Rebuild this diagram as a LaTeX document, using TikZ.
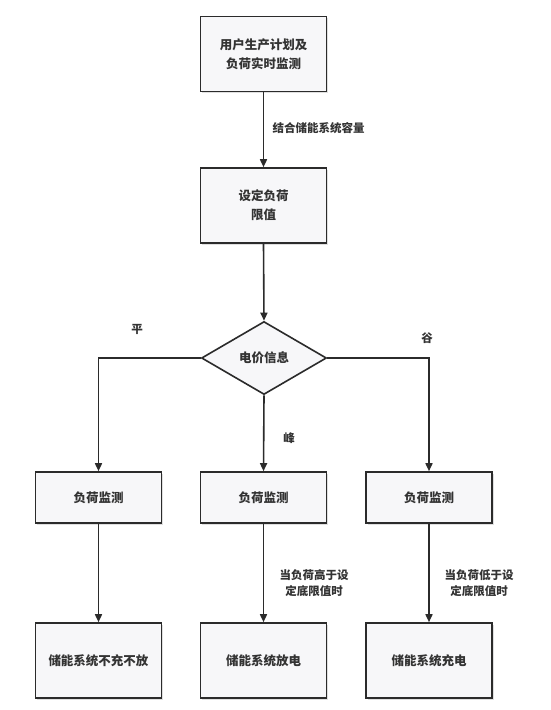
\documentclass[tikz,border=0pt]{standalone}
\usepackage{fontspec}
\setmainfont{Noto Sans CJK SC}
\usetikzlibrary{shapes.geometric,arrows.meta,shadows}
\definecolor{linec}{HTML}{2B2B2B}
\definecolor{boxfill}{HTML}{F7F7F9}
\begin{document}
\begin{tikzpicture}[x=1pt,y=-1pt,
  every node/.style={font=\fontsize{12.5}{19}\selectfont\bfseries, text=black!80},
  procbox/.style={draw=linec, line width=1.6pt, fill=boxfill, minimum width=126pt, inner sep=0pt, align=center, drop shadow={shadow xshift=1.5pt, shadow yshift=-1.5pt, opacity=0.25}},
  decbox/.style={draw=linec, line width=1.6pt, fill=boxfill, diamond, minimum width=125pt, minimum height=73pt, inner sep=0pt, align=center},
  conn/.style={draw=linec, line width=1.6pt, -{Triangle[length=8pt,width=7pt]}},
  lbl/.style={font=\fontsize{11.5}{16}\selectfont\bfseries, align=center}]
\useasboundingbox (0,0) rectangle (550,710);
\fill[white] (0,0) rectangle (550,710);

\node[procbox, minimum height=75pt] (a) at (263.5,54) {用户生产计划及\\负荷实时监测};
\node[procbox, minimum height=75pt] (b) at (263.5,205.5) {设定负荷\\限值};
\node[decbox] (d) at (264,358) {电价信息};

\node[procbox, minimum height=51pt] (m1) at (98.5,497.5) {负荷监测};
\node[procbox, minimum height=51pt] (m2) at (263.5,497.5) {负荷监测};
\node[procbox, minimum height=51pt] (m3) at (429,497.5) {负荷监测};

\node[procbox, minimum height=75pt] (r1) at (98.5,660.5) {储能系统不充不放};
\node[procbox, minimum height=75pt] (r2) at (263.5,660.5) {储能系统放电};
\node[procbox, minimum height=75pt] (r3) at (429,660.5) {储能系统充电};

\draw[conn] (a.south) -- (b.north);
\draw[conn] (b.south) -- (d.north);
\draw[conn] (d.west) -| (m1.north);
\draw[conn] (d.south) -- (m2.north);
\draw[conn] (d.east) -| (m3.north);
\draw[conn] (m1.south) -- (r1.north);
\draw[conn] (m2.south) -- (r2.north);
\draw[conn] (m3.south) -- (r3.north);

\node[lbl, anchor=west] (l1) at (269,128) {结合储能系统容量};
\node[lbl] (l2) at (137,329) {平};
\node[lbl] (l3) at (427,338) {谷};
\node[lbl] (l4) at (289,438) {峰};
\node[lbl, anchor=west] (l5) at (276,583) {当负荷高于设\\定底限值时};
\node[lbl, anchor=west] (l6) at (441,583) {当负荷低于设\\定底限值时};
\end{tikzpicture}
\end{document}
